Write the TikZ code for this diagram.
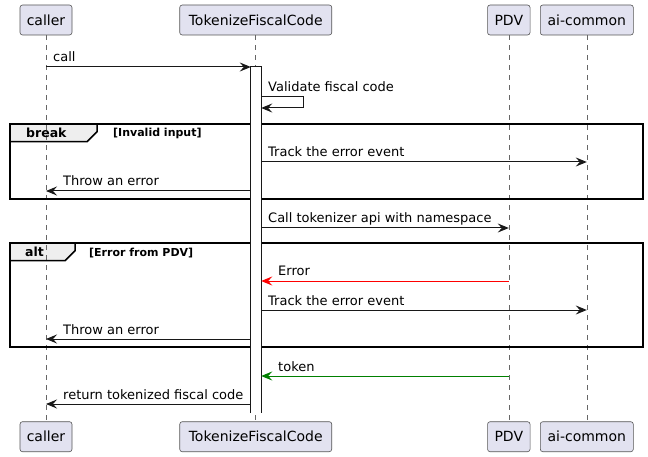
\documentclass[tikz,border=0pt]{standalone}
\usepackage{fontspec}
\setmainfont{DejaVu Sans}
\usetikzlibrary{arrows.meta}
\definecolor{partfill}{HTML}{E2E2F0}
\definecolor{ink}{HTML}{181818}
\definecolor{lifeink}{HTML}{666666}
\definecolor{boxink}{HTML}{555555}
\definecolor{tabfill}{HTML}{EEEEEE}
\definecolor{okgreen}{HTML}{008000}
\begin{document}
\begin{tikzpicture}[x=1pt,y=-1pt,
  part/.style={draw=boxink, fill=partfill, rounded corners=2.5pt, line width=0.6pt,
    minimum height=30pt, inner sep=0pt, font=\fontsize{14}{16}\selectfont},
  life/.style={draw=lifeink, dash pattern=on 5pt off 5pt, line width=0.6pt},
  msg/.style={draw=ink, line width=1pt, -{Stealth[length=11pt,width=9pt,inset=4pt]}},
  lbl/.style={font=\fontsize{13}{15}\selectfont, inner sep=0pt, anchor=base west},
  frm/.style={draw=black, line width=1.5pt},
  ftitle/.style={font=\bfseries\fontsize{12.5}{14}\selectfont, inner sep=0pt, anchor=base west},
  fcond/.style={font=\bfseries\fontsize{11}{13}\selectfont, inner sep=0pt, anchor=base west},
  actbar/.style={fill=white, minimum width=10pt, minimum height=346pt, inner sep=0pt},
  actline/.style={draw=ink, line width=1pt}
]
\useasboundingbox (0,0) rectangle (648,457);

% tab backgrounds
\fill[tabfill] (10,124) -- (97,124) -- (97,131.7) -- (87,141.7) -- (10,141.7) -- cycle;
\fill[tabfill] (10,243) -- (75,243) -- (75,250.7) -- (65,260.7) -- (10,260.7) -- cycle;

% participants
\node[part, minimum width=52pt] (callerT) at (46,20) {caller};
\node[part, minimum width=152pt] (tfcT) at (255.75,20) {TokenizeFiscalCode};
\node[part, minimum width=42.5pt] (pdvT) at (508.8,20) {PDV};
\node[part, minimum width=93pt] (aiT) at (586.8,20) {ai-common};
\node[part, minimum width=52pt] (callerB) at (46,436.7) {caller};
\node[part, minimum width=152pt] (tfcB) at (255.75,436.7) {TokenizeFiscalCode};
\node[part, minimum width=42.5pt] (pdvB) at (508.8,436.7) {PDV};
\node[part, minimum width=93pt] (aiB) at (586.8,436.7) {ai-common};

% lifelines
\draw[life] (callerT.south) -- (callerB.north);
\draw[life] (tfcT.south) -- (tfcB.north);
\draw[life] (pdvT.south) -- (pdvB.north);
\draw[life] (aiT.south) -- (aiB.north);

% frame outlines and tabs
\draw[frm] (10,124) rectangle (643,199);
\draw[frm] (10,141.7) -- (87,141.7) -- (97,131.7) -- (97,124);
\draw[frm] (10,243) rectangle (643,347);
\draw[frm] (10,260.7) -- (65,260.7) -- (75,250.7) -- (75,243);
\node[ftitle] (brkT) at (26,138) {break};
\node[fcond] (brkC) at (113,137) {[Invalid input]};
\node[ftitle] (altT) at (25,257) {alt};
\node[fcond] (altC) at (89,256) {[Error from PDV]};

% activation (open at the bottom)
\node[actbar] (act) at (256,240) {};
\draw[actline] (act.south west) -- (act.north west) -- (act.north east) -- (act.south east);

% message rows
\coordinate (y1) at (0,67);
\coordinate (y2a) at (0,97);
\coordinate (y2b) at (0,108);
\coordinate (y3) at (0,162);
\coordinate (y4) at (0,191);
\coordinate (y5) at (0,228);
\coordinate (y6) at (0,281);
\coordinate (y7) at (0,310);
\coordinate (y8) at (0,339);
\coordinate (y9) at (0,376);
\coordinate (y10) at (0,404);
\coordinate (selfR) at (303,0);

\draw[msg] (callerT |- y1) -- (act.west |- y1);
\node[lbl] (l1) at (53,62) {call};

\draw[msg] (act.east |- y2a) -- (selfR |- y2a) -- (selfR |- y2b) -- (act.east |- y2b);
\node[lbl] (l2) at (268,92) {Validate fiscal code};

\draw[msg] (act.east |- y3) -- (aiT |- y3);
\node[lbl] (l3) at (268,157) {Track the error event};

\draw[msg] (act.west |- y4) -- (callerT |- y4);
\node[lbl] (l4) at (63,186) {Throw an error};

\draw[msg] (act.east |- y5) -- (pdvT |- y5);
\node[lbl] (l5) at (268,223) {Call tokenizer api with namespace};

\draw[msg, draw=red] (pdvT |- y6) -- (act.east |- y6);
\node[lbl] (l6) at (278,276) {Error};

\draw[msg] (act.east |- y7) -- (aiT |- y7);
\node[lbl] (l7) at (268,305) {Track the error event};

\draw[msg] (act.west |- y8) -- (callerT |- y8);
\node[lbl] (l8) at (63,334) {Throw an error};

\draw[msg, draw=okgreen] (pdvT |- y9) -- (act.east |- y9);
\node[lbl] (l9) at (278,371) {token};

\draw[msg] (act.west |- y10) -- (callerT |- y10);
\node[lbl] (l10) at (63,399) {return tokenized fiscal code};
\end{tikzpicture}
\end{document}
